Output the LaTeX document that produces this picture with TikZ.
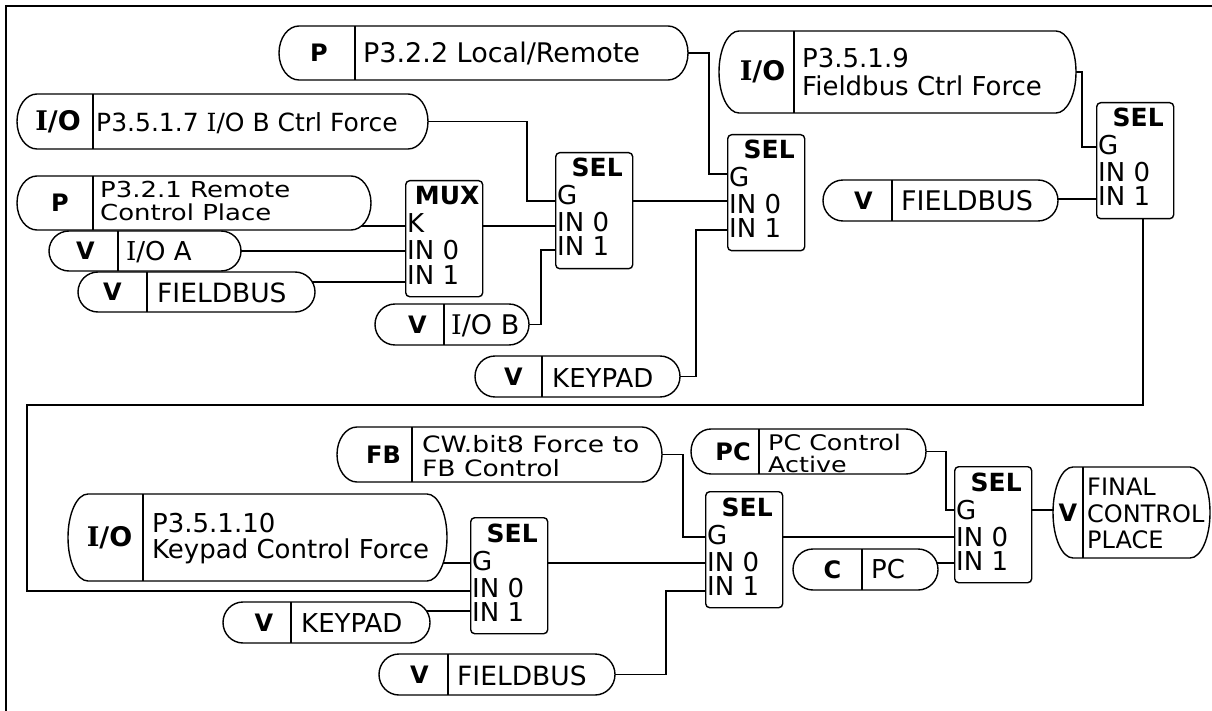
\documentclass[tikz,border=0pt]{standalone}
\usepackage{fontspec}
\setmainfont{DejaVu Sans}
\newfontfamily\sqfont[FakeStretch=1.18]{DejaVu Sans}
\newfontfamily\serfont{DejaVu Serif}
\usetikzlibrary{fit,calc,backgrounds}
\newcommand\fsz[1]{\fontsize{#1}{#1}\selectfont}
\newcommand\sI{{\serfont I}}
\newcommand\pillr{20}
\tikzset{
  wire/.style={line width=1.4pt},
  frameline/.style={line width=1.6pt},
  pillline/.style={line width=1.4pt},
  plabel/.style={font=\bfseries\fsz{24}, inner sep=0pt},
  ptext/.style={anchor=base west, inner sep=0pt},
  blk/.style={draw, line width=1.4pt, fill=white, rounded corners=4pt,
    minimum width=77pt, minimum height=116pt, anchor=north west, inner sep=0pt},
  btitle/.style={font=\bfseries\fsz{25}, anchor=base, inner sep=0pt},
  brow/.style={font=\fsz{26}, anchor=base west, inner sep=0pt},
}
% name, L, R, T, B, divider, label, label dx
\newcommand\pill[8]{%
  \node[fit={(#2,-#4) (#3,-#5)}, inner sep=0pt] (#1) {};
  \draw[pillline, fill=white] ({#2+\pillr},-#4) -- ({#3-\pillr},-#4)
     arc[start angle=90, end angle=-90, x radius=\pillr, y radius={(#5-#4)/2}]
     -- ({#2+\pillr},-#5)
     arc[start angle=270, end angle=90, x radius=\pillr, y radius={(#5-#4)/2}] -- cycle;
  \draw[pillline] (#6,-#4) -- (#6,-#5);
  \node[plabel] (#1-l) at ({(#2+#6)/2+#8}, {-(#4+#5)/2}) {#7};
}
% name, L, T, title, first row
\newcommand\gatebox[5]{%
  \node[blk] (#1) at (#2,-#3) {};
  \node[btitle] (#1-h) at ($(#1.north)+(3,-25)$) {#4};
  \node[brow] (#1-r1) at ($(#1.north west)+(2,-53)$) {#5};
  \node[brow] (#1-r2) at ($(#1.north west)+(2,-80)$) {IN 0};
  \node[brow] (#1-r3) at ($(#1.north west)+(2,-104)$) {IN 1};
}
\begin{document}
\begin{tikzpicture}[x=1pt,y=1pt]
\useasboundingbox (0,0) rectangle (1212,-711);
\draw[frameline] (6,-711) -- (6,-6) -- (1212,-6);

% ---------- pills ----------
\pill{pP322}{279}{688}{26}{80}{355}{P}{2}
\pill{pIOB}{17}{428}{94}{149}{93}{\fsz{27}\sI/O}{3}
\pill{pP321}{17}{371}{176}{230}{93}{P}{5}
\pill{pIOA}{49}{241}{231}{271}{118}{V}{2}
\pill{pFB1}{78}{315}{272}{312}{147}{V}{0}
\pill{pIOBv}{375}{529}{304}{345}{444}{V}{8}
\pill{pKP1}{475}{680}{356}{397}{542}{V}{5}
\pill{pFBCF}{719}{1076}{31}{113}{794}{\fsz{27}\sI/O}{6}
\pill{pFB2}{823}{1058}{180}{221}{892}{V}{6}
\pill{pFBC}{337}{662}{427}{482}{412}{FB}{9}
\pill{pKCF}{68}{447}{494}{581}{143}{\fsz{27}\sI/O}{4}
\pill{pKP2}{223}{430}{602}{643}{291}{V}{7}
\pill{pFB3}{379}{615}{654}{695}{448}{V}{6}
\pill{pPC}{691}{926}{429}{474}{759}{PC}{8}
\pill{pC}{793}{938}{549}{590}{862}{C}{5}
\pill{pFinal}{1053}{1210}{467}{558}{1083}{V}{0}

% ---------- pill texts ----------
\node[ptext, font=\fsz{27}] (pP322-t) at (363,-63) {P3.2.2 Local/Remote};
\node[ptext, font=\fsz{25}] (pIOB-t) at (96,-132) {P3.5.1.7 \sI/O B Ctrl Force};
\node[ptext, font=\sqfont\fsz{22}] (pP321-t1) at (100,-198) {P3.2.1 Remote};
\node[ptext, font=\sqfont\fsz{22}] (pP321-t2) at (100,-221) {Control Place};
\node[ptext, font=\fsz{26}] (pIOA-t) at (126,-261) {\sI/O A};
\node[ptext, font=\fsz{26.5}] (pFB1-t) at (157,-302) {FIELDBUS};
\node[ptext, font=\fsz{27}] (pIOBv-t) at (451,-334) {\sI/O B};
\node[ptext, font=\fsz{26}] (pKP1-t) at (552,-387) {KEYPAD};
\node[ptext, font=\fsz{26}] (pFBCF-t1) at (802,-68) {P3.5.1.9};
\node[ptext, font=\fsz{26}] (pFBCF-t2) at (802,-96) {Fieldbus Ctrl Force};
\node[ptext, font=\fsz{27}] (pFB2-t) at (901,-211) {FIELDBUS};
\node[ptext, font=\sqfont\fsz{22.5}] (pFBC-t1) at (422,-452) {CW.bit8 Force to};
\node[ptext, font=\sqfont\fsz{22.5}] (pFBC-t2) at (422,-476) {FB Control};
\node[ptext, font=\fsz{26}] (pKCF-t1) at (152,-532) {P3.5.1.10};
\node[ptext, font=\fsz{26}] (pKCF-t2) at (152,-558) {Keypad Control Force};
\node[ptext, font=\fsz{26}] (pKP2-t) at (301,-632) {KEYPAD};
\node[ptext, font=\fsz{26.5}] (pFB3-t) at (457,-685) {FIELDBUS};
\node[ptext, font=\sqfont\fsz{21.5}] (pPC-t1) at (768,-450) {PC Control};
\node[ptext, font=\sqfont\fsz{21.5}] (pPC-t2) at (768,-472) {Active};
\node[ptext, font=\fsz{26}] (pC-t) at (871,-578) {PC};
\node[ptext, font=\fsz{24}] (pFinal-t1) at (1087,-495) {FINAL};
\node[ptext, font=\fsz{24}] (pFinal-t2) at (1087,-522) {CONTROL};
\node[ptext, font=\fsz{24}] (pFinal-t3) at (1087,-548) {PLACE};

% ---------- function blocks ----------
\gatebox{mux}{405}{180}{MUX}{K}
\gatebox{sel1}{555}{152}{SEL}{G}
\gatebox{sel2}{727}{134}{SEL}{G}
\gatebox{sel3}{1096}{102}{SEL}{G}
\gatebox{sel4}{470}{517}{SEL}{G}
\gatebox{sel5}{705}{491}{SEL}{G}
\gatebox{sel6}{954}{466}{SEL}{G}

% ---------- ports ----------
\coordinate (muxK)    at ($(mux.north west)+(0,-46)$);
\coordinate (muxIN0)  at ($(mux.north west)+(0,-71)$);
\coordinate (muxIN1)  at ($(mux.north west)+(0,-102)$);
\coordinate (sel1G)   at ($(sel1.north west)+(0,-49)$);
\coordinate (sel1IN0) at ($(sel1.north west)+(0,-74)$);
\coordinate (sel1IN1) at ($(sel1.north west)+(0,-98)$);
\coordinate (sel2G)   at ($(sel2.north west)+(0,-40)$);
\coordinate (sel2IN0) at ($(sel2.north west)+(0,-67)$);
\coordinate (sel2IN1) at ($(sel2.north west)+(0,-96)$);
\coordinate (sel3G)   at ($(sel3.north west)+(0,-45)$);
\coordinate (sel3IN1) at ($(sel3.north west)+(0,-97)$);
\coordinate (sel4G)   at ($(sel4.north west)+(0,-46)$);
\coordinate (sel4IN0) at ($(sel4.north west)+(0,-74)$);
\coordinate (sel4IN1) at ($(sel4.north west)+(0,-94)$);
\coordinate (sel5G)   at ($(sel5.north west)+(0,-46)$);
\coordinate (sel5IN0) at ($(sel5.north west)+(0,-72)$);
\coordinate (sel5IN1) at ($(sel5.north west)+(0,-100)$);
\coordinate (sel6G)   at ($(sel6.north west)+(0,-44)$);
\coordinate (sel6IN0) at ($(sel6.north west)+(0,-71)$);
\coordinate (sel6IN1) at ($(sel6.north west)+(0,-97)$);
\coordinate (loopR) at (1143,-405);
\coordinate (loopL) at (27,-405);

% ---------- connectors ----------
\begin{scope}[on background layer]
\draw[wire] (pP322.east) -| ($(sel2G)+(-18,0)$) -- (sel2G);
\draw[wire] (pIOB.east) -| ($(sel1G)+(-28,0)$) -- (sel1G);
\draw[wire] (pP321.center |- muxK) -- (muxK);
\draw[wire] (pIOA.center |- muxIN0) -- (muxIN0);
\draw[wire] (pFB1.center |- muxIN1) -- (muxIN1);
\draw[wire] (mux.center |- sel1IN0) -- (sel1IN0);
\draw[wire] (pIOBv.east) -| ($(sel1IN1)+(-14,0)$) -- (sel1IN1);
\draw[wire] (sel1.center |- sel2IN0) -- (sel2IN0);
\draw[wire] (pKP1.east) -| ($(sel2IN1)+(-31,0)$) -- (sel2IN1);
\draw[wire] (pFBCF.east) -| ($(sel3G)+(-14,0)$) -- (sel3G);
\draw[wire] (pFB2.center |- sel3IN1) -- (sel3IN1);
\draw[wire] (sel3.south -| loopR) -- (loopR) -- (loopL) |- (sel4IN0);
\draw[wire] (pKCF.center |- sel4G) -- (sel4G);
\draw[wire] (pKP2.center |- sel4IN1) -- (sel4IN1);
\draw[wire] (sel4.center |- sel5IN0) -- (sel5IN0);
\draw[wire] (pFBC.east) -| ($(sel5G)+(-22,0)$) -- (sel5G);
\draw[wire] (pFB3.east) -| ($(sel5IN1)+(-39,0)$) -- (sel5IN1);
\draw[wire] (sel5.center |- sel6IN0) -- (sel6IN0);
\draw[wire] (pPC.east) -| ($(sel6G)+(-8,0)$) -- (sel6G);
\draw[wire] (pC.center |- sel6IN1) -- (sel6IN1);
\draw[wire] (sel6.center |- sel6G) -- (pFinal.center |- sel6G);
\end{scope}
\end{tikzpicture}
\end{document}
